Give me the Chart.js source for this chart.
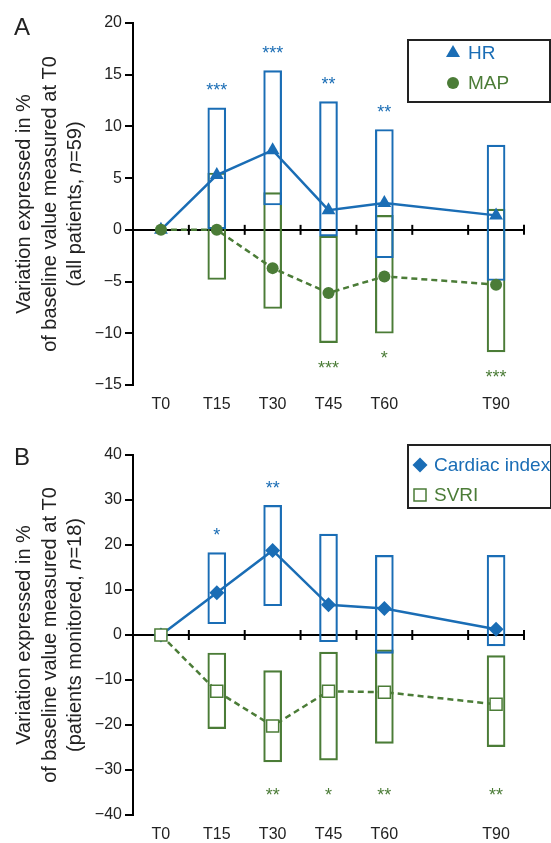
<!DOCTYPE html>
<html>
<head>
<meta charset="utf-8">
<script src="https://cdn.jsdelivr.net/npm/chart.js@4.4.0/dist/chart.umd.min.js"></script>
<style>
  html, body { margin: 0; padding: 0; background: #fff; }
  body { width: 551px; height: 843px; position: relative; overflow: hidden; }
  canvas { position: absolute; left: 0; }
  #chartA { top: 0; }
  #chartB { top: 432px; }
</style>
</head>
<body>
<canvas id="chartA" width="551" height="420"></canvas>
<canvas id="chartB" width="551" height="411"></canvas>
<script>
// time points, minutes after T0
const minutes = [0, 15, 30, 45, 60, 90];
const timeLabels = ["T0", "T15", "T30", "T45", "T60", "T90"];
const axisTickMinutes = [7.5, 22.5, 37.5, 52.5, 67.5, 82.5, 97.5];

// A - all patients (n=59)
const hrMedian = [0, 5.3, 7.7, 1.9, 2.6, 1.4];
const hrLow    = [null, 0, 2.4, -0.6, -2.7, -4.9];
const hrHigh   = [null, 11.8, 15.4, 12.4, 9.7, 8.2];
const hrSig    = ["", "***", "***", "**", "**", ""];

const mapMedian = [0, 0, -3.7, -6.1, -4.5, -5.3];
const mapLow    = [null, -4.8, -7.6, -10.9, -10.0, -11.8];
const mapHigh   = [null, 5.5, 3.6, -0.6, 1.4, 2.0];
const mapSig    = ["", "", "", "***", "*", "***"];

const ticksA = [-15, -10, -5, 0, 5, 10, 15, 20];

// B - patients monitored (n=18)
const ciMedian = [0, 9.4, 18.8, 6.7, 5.9, 1.3];
const ciLow    = [null, 2.5, 6.5, -1.5, -4.1, -2.4];
const ciHigh   = [null, 18.3, 28.8, 22.4, 17.7, 17.7];
const ciSig    = ["", "*", "**", "", "", ""];

const svriMedian = [0, -12.5, -20.2, -12.5, -12.7, -15.4];
const svriLow    = [null, -20.8, -28.2, -27.8, -24.1, -24.8];
const svriHigh   = [null, -4.0, -7.9, -3.8, -3.3, -4.6];
const svriSig    = ["", "", "**", "*", "**", "**"];

const ticksB = [-40, -30, -20, -10, 0, 10, 20, 30, 40];

const BLUE = "#1a6db5";
const GREEN = "#4b7c37";
const INK = "#222";
const FAMILY = "'Liberation Sans', Arial, Helvetica, sans-serif";

function fmt(v) {
    return v < 0 ? "\u2212" + Math.abs(v) : String(v);
}

function points(vals) {
    return minutes.map((m, i) => ({ x: m, y: vals[i] }));
}

function boxes(lo, hi) {
    return minutes
        .map((m, i) => (lo[i] === null ? null : { x: m, y: [lo[i], hi[i]] }))
        .filter(Boolean);
}

// marker shapes for the legend
function drawMarker(ctx, shape, x, y, color) {
    ctx.save();
    ctx.fillStyle = color;
    ctx.strokeStyle = color;
    ctx.beginPath();
    if (shape === "triangle") {
        ctx.moveTo(x, y - 8);
        ctx.lineTo(x + 7, y + 4);
        ctx.lineTo(x - 7, y + 4);
        ctx.closePath();
        ctx.fill();
    } else if (shape === "circle") {
        ctx.arc(x, y, 6, 0, Math.PI * 2);
        ctx.fill();
    } else if (shape === "diamond") {
        ctx.moveTo(x, y - 7.5);
        ctx.lineTo(x + 7.5, y);
        ctx.lineTo(x, y + 7.5);
        ctx.lineTo(x - 7.5, y);
        ctx.closePath();
        ctx.fill();
    } else {
        ctx.fillStyle = "#fff";
        ctx.lineWidth = 1.5;
        ctx.rect(x - 6, y - 6, 12, 12);
        ctx.fill();
        ctx.stroke();
    }
    ctx.restore();
}

function makePanel(canvasId, cfg) {
    const [s1, s2] = cfg.series;

    const decor = {
        id: "decor",
        afterDraw(chart) {
            const ctx = chart.ctx;
            const xs = chart.scales.x;
            const ys = chart.scales.y;
            const area = chart.chartArea;

            // tick marks crossing the zero line
            const y0 = ys.getPixelForValue(0);
            ctx.save();
            ctx.strokeStyle = "#000";
            ctx.lineWidth = 2;
            chart.scales.x0.ticks.forEach(t => {
                const px = xs.getPixelForValue(t.value);
                ctx.beginPath();
                ctx.moveTo(px, y0 - 5);
                ctx.lineTo(px, y0 + 5);
                ctx.stroke();
            });
            ctx.restore();

            // significance stars
            ctx.save();
            ctx.font = "18px " + FAMILY;
            ctx.textAlign = "center";
            ctx.textBaseline = "alphabetic";
            cfg.series.forEach(s => {
                ctx.fillStyle = s.color;
                s.sig.forEach((txt, i) => {
                    if (!txt) return;
                    const px = xs.getPixelForValue(minutes[i]);
                    let cy;
                    if (s.sigLevel !== undefined) {
                        cy = ys.getPixelForValue(s.sigLevel);
                    } else if (s.sigSide === "above") {
                        cy = ys.getPixelForValue(s.high[i]) - 21.5;
                    } else {
                        cy = ys.getPixelForValue(s.low[i]) + 21;
                    }
                    ctx.fillText(txt, px, cy + 10);
                });
            });
            ctx.restore();

            // y axis title, three rotated lines
            ctx.save();
            ctx.fillStyle = INK;
            ctx.textBaseline = "alphabetic";
            ctx.textAlign = "left";
            const midY = (area.top + area.bottom) / 2;
            cfg.titleLines.forEach((segs, i) => {
                let total = 0;
                segs.forEach(sg => {
                    ctx.font = (sg.italic ? "italic " : "") + "20px " + FAMILY;
                    total += ctx.measureText(sg.t).width;
                });
                ctx.save();
                ctx.translate(30 + i * 25.5, midY);
                ctx.rotate(-Math.PI / 2);
                let cx = -total / 2;
                segs.forEach(sg => {
                    ctx.font = (sg.italic ? "italic " : "") + "20px " + FAMILY;
                    ctx.fillText(sg.t, cx, 0);
                    cx += ctx.measureText(sg.t).width;
                });
                ctx.restore();
            });
            ctx.restore();

            // panel letter
            ctx.save();
            ctx.fillStyle = INK;
            ctx.font = "24px " + FAMILY;
            ctx.textBaseline = "alphabetic";
            ctx.fillText(cfg.letter, 14, cfg.letterBase);
            ctx.restore();

            // legend box
            const lg = cfg.legend;
            ctx.save();
            ctx.fillStyle = "#fff";
            ctx.fillRect(lg.x, lg.y, lg.w, lg.h);
            ctx.strokeStyle = INK;
            ctx.lineWidth = 2;
            ctx.strokeRect(lg.x, lg.y, lg.w, lg.h);
            ctx.font = "19px " + FAMILY;
            ctx.textBaseline = "middle";
            ctx.textAlign = "left";
            cfg.series.forEach((s, i) => {
                const ly = lg.y + lg.rowTop + i * lg.rowGap;
                drawMarker(ctx, s.marker, lg.markX, ly, s.color);
                ctx.fillStyle = s.color;
                ctx.fillText(s.name, lg.textX, ly + 1);
            });
            ctx.restore();
        }
    };

    function lineSet(s) {
        return {
            type: "line",
            label: s.name,
            data: points(s.median),
            borderColor: s.color,
            borderWidth: 2.5,
            borderDash: s.dash || [],
            tension: 0,
            pointStyle: s.pointStyle,
            pointRadius: s.pointRadius,
            pointBackgroundColor: s.pointFill,
            pointBorderColor: s.color,
            pointBorderWidth: s.pointBorder
        };
    }

    function boxSet(s) {
        return {
            type: "bar",
            label: s.name + " range",
            data: boxes(s.low, s.high),
            backgroundColor: "rgba(0,0,0,0)",
            borderColor: s.color,
            borderWidth: 1.5,
            borderSkipped: false,
            barThickness: 18,
            grouped: false
        };
    }

    return new Chart(document.getElementById(canvasId), {
        type: "line",
        data: {
            datasets: [lineSet(s2), lineSet(s1), boxSet(s1), boxSet(s2)]
        },
        options: {
            responsive: false,
            animation: false,
            devicePixelRatio: 1,
            layout: { padding: { left: 0, right: 27, top: 23, bottom: cfg.padBottom } },
            plugins: {
                legend: { display: false },
                tooltip: { enabled: false }
            },
            scales: {
                x: {
                    type: "linear",
                    min: -7.5,
                    max: 97.5,
                    offset: false,
                    afterBuildTicks: sc => { sc.ticks = minutes.map(v => ({ value: v })); },
                    afterFit: sc => { sc.height = 28; },
                    grid: { display: false, drawTicks: false },
                    border: { display: false },
                    ticks: {
                        padding: 10,
                        color: INK,
                        font: { size: 16, family: FAMILY },
                        autoSkip: false,
                        maxRotation: 0,
                        callback: v => timeLabels[minutes.indexOf(v)]
                    }
                },
                x0: {
                    type: "linear",
                    axis: "x",
                    position: { y: 0 },
                    min: -7.5,
                    max: 97.5,
                    afterBuildTicks: sc => { sc.ticks = axisTickMinutes.map(v => ({ value: v })); },
                    grid: { display: false },
                    border: { display: true, color: "#000", width: 2 },
                    ticks: { display: false }
                },
                y: {
                    type: "linear",
                    min: cfg.yTicks[0],
                    max: cfg.yTicks[cfg.yTicks.length - 1],
                    afterBuildTicks: sc => { sc.ticks = cfg.yTicks.map(v => ({ value: v })); },
                    afterFit: sc => { sc.width = 133; },
                    grid: { drawOnChartArea: false, drawTicks: true, tickLength: 8, color: "#000", lineWidth: 2 },
                    border: { display: true, color: "#000", width: 2 },
                    ticks: {
                        padding: 3,
                        color: INK,
                        font: { size: 16, family: FAMILY },
                        callback: v => fmt(v)
                    }
                }
            }
        },
        plugins: [decor]
    });
}

makePanel("chartA", {
    letter: "A",
    letterBase: 35,
    padBottom: 7,
    yTicks: ticksA,
    titleLines: [
        [{ t: "Variation expressed in %" }],
        [{ t: "of baseline value measured at T0" }],
        [{ t: "(all patients, " }, { t: "n", italic: true }, { t: "=59)" }]
    ],
    legend: { x: 408, y: 40, w: 142, h: 62, rowTop: 13, rowGap: 30, markX: 453, textX: 468 },
    series: [
        { name: "HR", color: BLUE, median: hrMedian, low: hrLow, high: hrHigh, sig: hrSig, sigSide: "above",
          marker: "triangle", pointStyle: "triangle", pointRadius: 8, pointFill: BLUE, pointBorder: 0 },
        { name: "MAP", color: GREEN, median: mapMedian, low: mapLow, high: mapHigh, sig: mapSig, sigSide: "below",
          marker: "circle", pointStyle: "circle", pointRadius: 6, pointFill: GREEN, pointBorder: 0, dash: [6, 4] }
    ]
});

makePanel("chartB", {
    letter: "B",
    letterBase: 33,
    padBottom: 0,
    yTicks: ticksB,
    titleLines: [
        [{ t: "Variation expressed in %" }],
        [{ t: "of baseline value measured at T0" }],
        [{ t: "(patients monitored, " }, { t: "n", italic: true }, { t: "=18)" }]
    ],
    legend: { x: 408, y: 13, w: 143, h: 63, rowTop: 20, rowGap: 30, markX: 420, textX: 434 },
    series: [
        { name: "Cardiac index", color: BLUE, median: ciMedian, low: ciLow, high: ciHigh, sig: ciSig, sigSide: "above",
          marker: "diamond", pointStyle: "rectRot", pointRadius: 7.5, pointFill: BLUE, pointBorder: 0 },
        { name: "SVRI", color: GREEN, median: svriMedian, low: svriLow, high: svriHigh, sig: svriSig, sigLevel: -34.6,
          marker: "square", pointStyle: "rect", pointRadius: 8.5, pointFill: "#fff", pointBorder: 1.5, dash: [6, 4] }
    ]
});
</script>
</body>
</html>
